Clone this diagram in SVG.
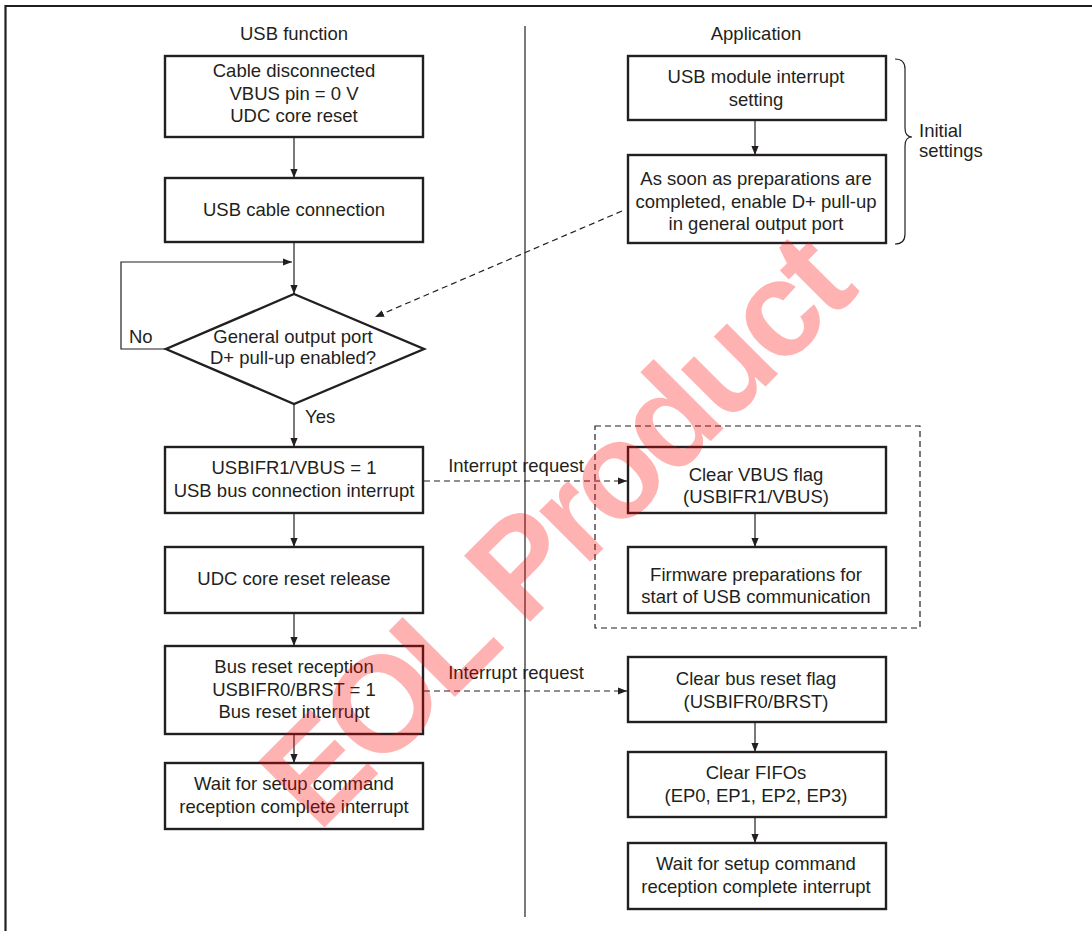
<svg xmlns="http://www.w3.org/2000/svg" width="1092" height="931" viewBox="0 0 1092 931">
<style>
  .bx{fill:#fff;stroke:#231f20;stroke-width:2.4}
  .t{font-family:"Liberation Sans",Arial,sans-serif;font-size:18.5px;fill:#231f20;text-anchor:middle}
  .tl{font-family:"Liberation Sans",Arial,sans-serif;font-size:18.5px;fill:#231f20}
  .ln{fill:none;stroke:#231f20;stroke-width:1.2}
  .dl{fill:none;stroke:#231f20;stroke-width:1.2;stroke-dasharray:6 4}
  .wm{font-family:"Liberation Sans",Arial,sans-serif;font-weight:bold;font-size:136px;letter-spacing:-6px;fill:#ff0000;fill-opacity:0.3}
</style>
<defs>
  <marker id="ah" viewBox="0 0 10 10" refX="10" refY="5" markerWidth="9" markerHeight="9" markerUnits="userSpaceOnUse" orient="auto">
    <path d="M0,1 L10,5 L0,9 z" fill="#231f20"/>
  </marker>
</defs>
<rect width="1092" height="931" fill="#fff"/>
<g id="frame">
  <path d="M5.5,931 V6 H1092" fill="none" stroke="#231f20" stroke-width="2.2"/>
  <line x1="525" y1="26" x2="525" y2="917" stroke="#231f20" stroke-width="1.2"/>
  <text class="t" x="294" y="40">USB function</text>
  <text class="t" x="756" y="40">Application</text>
</g>
<g id="connectors">
  <line class="ln" x1="294" y1="137" x2="294" y2="178" marker-end="url(#ah)"/>
  <line class="ln" x1="294" y1="242" x2="294" y2="294" marker-end="url(#ah)"/>
  <polyline class="ln" points="166,349 121,349 121,262 292,262" marker-end="url(#ah)"/>
  <line class="ln" x1="294" y1="404" x2="294" y2="447" marker-end="url(#ah)"/>
  <line class="ln" x1="294" y1="513" x2="294" y2="547" marker-end="url(#ah)"/>
  <line class="ln" x1="294" y1="613" x2="294" y2="646" marker-end="url(#ah)"/>
  <line class="ln" x1="294" y1="734" x2="294" y2="763" marker-end="url(#ah)"/>
  <line class="ln" x1="755" y1="120" x2="755" y2="155" marker-end="url(#ah)"/>
  <line class="ln" x1="755" y1="513" x2="755" y2="547" marker-end="url(#ah)"/>
  <line class="ln" x1="755" y1="722" x2="755" y2="752" marker-end="url(#ah)"/>
  <line class="ln" x1="755" y1="817" x2="755" y2="843" marker-end="url(#ah)"/>
  <line class="dl" x1="622" y1="211" x2="375" y2="317" marker-end="url(#ah)"/>
  <line class="dl" x1="424" y1="481" x2="627" y2="481" marker-end="url(#ah)"/>
  <line class="dl" x1="424" y1="691" x2="627" y2="691" marker-end="url(#ah)"/>
  <rect class="dl" x="595" y="426" width="325" height="202"/>
  <path class="ln" d="M895,59 Q905,59 905,69 L905,128 Q905,137 912,137 Q905,137 905,146 L905,234 Q905,244 895,244"/>
  <text class="tl" x="129" y="343">No</text>
  <text class="tl" x="305" y="423">Yes</text>
  <text class="t" x="516" y="472">Interrupt request</text>
  <text class="t" x="516" y="679">Interrupt request</text>
  <text class="tl" x="919" y="137">Initial</text>
  <text class="tl" x="919" y="157">settings</text>
</g>
<g id="n1"><rect class="bx" x="165" y="56" width="258" height="81"/>
  <text class="t" x="294" y="77">Cable disconnected</text><text class="t" x="294" y="99.5">VBUS pin = 0 V</text><text class="t" x="294" y="122">UDC core reset</text></g>
<g id="n2"><rect class="bx" x="165" y="178" width="258" height="64"/>
  <text class="t" x="294" y="216">USB cable connection</text></g>
<g id="n3"><polygon class="bx" points="294,294 424,349 294,404 166,349"/>
  <text class="t" x="293" y="343">General output port</text><text class="t" x="293" y="364">D+ pull-up enabled?</text></g>
<g id="n4"><rect class="bx" x="165" y="447" width="258" height="66"/>
  <text class="t" x="294" y="474">USBIFR1/VBUS = 1</text><text class="t" x="294" y="496.5">USB bus connection interrupt</text></g>
<g id="n5"><rect class="bx" x="165" y="547" width="258" height="66"/>
  <text class="t" x="294" y="585">UDC core reset release</text></g>
<g id="n6"><rect class="bx" x="165" y="646" width="258" height="88"/>
  <text class="t" x="294" y="673">Bus reset reception</text><text class="t" x="294" y="696">USBIFR0/BRST = 1</text><text class="t" x="294" y="718">Bus reset interrupt</text></g>
<g id="n7"><rect class="bx" x="165" y="763" width="258" height="66"/>
  <text class="t" x="294" y="790">Wait for setup command</text><text class="t" x="294" y="813">reception complete interrupt</text></g>
<g id="r1"><rect class="bx" x="628" y="56" width="258" height="64"/>
  <text class="t" x="756" y="83">USB module interrupt</text><text class="t" x="756" y="106">setting</text></g>
<g id="r2"><rect class="bx" x="628" y="155" width="258" height="88"/>
  <text class="t" x="756" y="185">As soon as preparations are</text><text class="t" x="756" y="207.5">completed, enable D+ pull-up</text><text class="t" x="756" y="230">in general output port</text></g>
<g id="r3"><rect class="bx" x="628" y="447" width="258" height="66"/>
  <text class="t" x="756" y="481">Clear VBUS flag</text><text class="t" x="756" y="503">(USBIFR1/VBUS)</text></g>
<g id="r4"><rect class="bx" x="628" y="547" width="258" height="66"/>
  <text class="t" x="756" y="581">Firmware preparations for</text><text class="t" x="756" y="603">start of USB communication</text></g>
<g id="r5"><rect class="bx" x="628" y="657" width="258" height="65"/>
  <text class="t" x="756" y="685">Clear bus reset flag</text><text class="t" x="756" y="707.5">(USBIFR0/BRST)</text></g>
<g id="r6"><rect class="bx" x="628" y="752" width="258" height="65"/>
  <text class="t" x="756" y="779">Clear FIFOs</text><text class="t" x="756" y="802">(EP0, EP1, EP2, EP3)</text></g>
<g id="r7"><rect class="bx" x="628" y="843" width="258" height="66"/>
  <text class="t" x="756" y="870">Wait for setup command</text><text class="t" x="756" y="893">reception complete interrupt</text></g>
<g id="watermark">
  <text class="wm" transform="translate(318,834) rotate(-45)" x="0" y="0">EOL Product</text>
</g>
</svg>
